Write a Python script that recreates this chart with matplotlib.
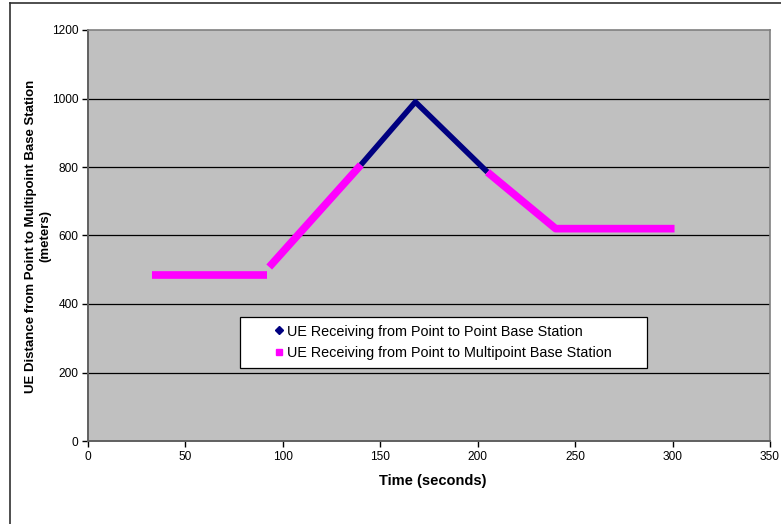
import matplotlib
matplotlib.use("Agg")
import matplotlib.pyplot as plt
from matplotlib.lines import Line2D
from matplotlib.patches import Rectangle

plt.rcParams['font.family'] = ['Liberation Sans', 'DejaVu Sans']

# Data
p2p_t = [140, 168, 205]
p2p_d = [806, 990, 785]

p2mp_seg1_t = [33, 92]
p2mp_seg1_d = [485, 485]
p2mp_seg2_t = [93, 140]
p2mp_seg2_d = [508, 806]
p2mp_seg3_t = [205, 223, 240, 301]
p2mp_seg3_d = [785, 700, 620, 620]

x_ticks = [0, 50, 100, 150, 200, 250, 300, 350]
y_ticks = [0, 200, 400, 600, 800, 1000, 1200]

navy = '#000080'
magenta = '#FF00FF'

fig = plt.figure(figsize=(7.81, 5.24), dpi=100)
fig.patch.set_facecolor('white')
W, H = 781, 524
AX_L, AX_R, AX_T, AX_B = 88, 770, 30, 441
AW, AH = AX_R - AX_L, AX_B - AX_T
ax = fig.add_axes([AX_L / W, (H - AX_B) / H, AW / W, AH / H])
ax.set_facecolor('#C0C0C0')


def ax_x(px):
    return (px - AX_L) / AW


def ax_y(py):
    return (AX_B - py) / AH


ax.plot(p2mp_seg1_t, p2mp_seg1_d, color=magenta, lw=5.5, solid_capstyle='butt', zorder=3)
ax.plot(p2mp_seg2_t, p2mp_seg2_d, color=magenta, lw=5.5, solid_capstyle='butt', zorder=3)
ax.plot(p2mp_seg3_t, p2mp_seg3_d, color=magenta, lw=5.5, solid_capstyle='butt', zorder=3)
ax.plot(p2p_t, p2p_d, color=navy, lw=4, solid_capstyle='butt', zorder=2)

ax.set_xlim(0, 350)
ax.set_ylim(0, 1200)
ax.set_xticks(x_ticks)
ax.set_yticks(y_ticks)
ax.set_xticklabels([str(v) for v in x_ticks])
ax.set_yticklabels([str(v) for v in y_ticks])
ax.tick_params(axis='both', direction='out', length=4, width=1, color='black',
               labelsize=8.6, pad=3)
for y in y_ticks[1:-1]:
    ax.axhline(y, color='black', lw=0.9, zorder=1)

for s in ['top', 'right']:
    ax.spines[s].set_color('#808080')
    ax.spines[s].set_linewidth(1.2)
for s in ['left', 'bottom']:
    ax.spines[s].set_color('#606060')
    ax.spines[s].set_linewidth(1.4)

ax.set_xlabel('Time (seconds)', fontsize=10.5, fontweight='bold')
ax.xaxis.set_label_coords(ax_x(433), ax_y(474))
ax.set_ylabel('UE Distance from Point to Multipoint Base Station\n(meters)',
              fontsize=9.5, fontweight='bold')
ax.yaxis.set_label_coords(ax_x(51), ax_y(236))

# legend frame
ax.add_patch(Rectangle((ax_x(240), ax_y(368)), ax_x(647) - ax_x(240), ax_y(317) - ax_y(368),
                       transform=ax.transAxes, facecolor='white', edgecolor='black',
                       lw=0.9, zorder=5))
handles = [
    Line2D([], [], color=navy, marker='D', markersize=3.8, linestyle='None'),
    Line2D([], [], color=magenta, marker='s', markersize=4.5, linestyle='None'),
]
labels = ['UE Receiving from Point to Point Base Station',
          'UE Receiving from Point to Multipoint Base Station']
leg = ax.legend(handles, labels, loc='center left',
                bbox_to_anchor=(ax_x(275), ax_y(342.5)),
                fontsize=10.4, frameon=False,
                handlelength=0.6, handletextpad=0.25, borderpad=0,
                labelspacing=0.55, borderaxespad=0)
leg.set_zorder(6)

# outer chart frame (top and left edges visible)
fig.add_artist(Line2D([10 / W, 1], [1 - 3 / H, 1 - 3 / H], color='#303030', lw=1.2,
                      transform=fig.transFigure))
fig.add_artist(Line2D([10 / W, 10 / W], [0, 1 - 3 / H], color='#303030', lw=1.2,
                      transform=fig.transFigure))

fig.savefig('out.png', dpi=100, facecolor='white')
